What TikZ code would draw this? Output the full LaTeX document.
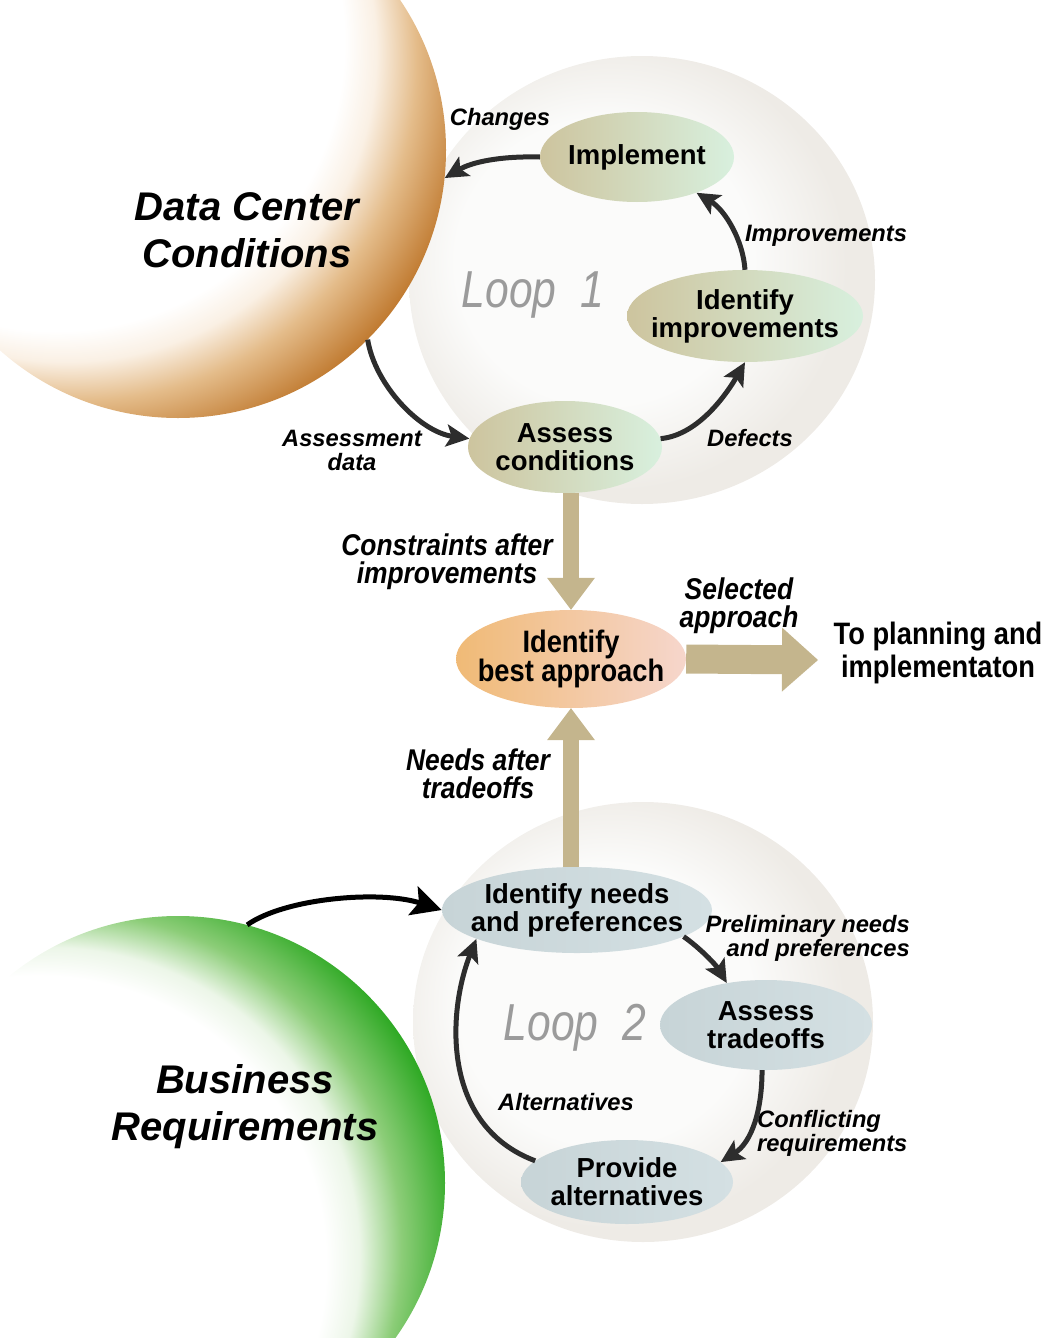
\documentclass[tikz,border=0pt]{standalone}
\usepackage{fontspec}
\setmainfont{Liberation Sans}
\newfontfamily\condfont[FakeStretch=0.88]{Liberation Sans}
\newfontfamily\loopfont[FakeStretch=0.82]{Liberation Sans}
\usetikzlibrary{arrows.meta,shapes.geometric,calc}

\definecolor{dcbrown}{RGB}{192,122,48}
\definecolor{dcmid}{RGB}{228,188,138}
\definecolor{dclight}{RGB}{250,240,228}
\definecolor{brgreen}{RGB}{44,168,34}
\definecolor{brmid}{RGB}{140,205,120}
\definecolor{brlight}{RGB}{236,246,232}
\definecolor{loopin}{RGB}{251,251,250}
\definecolor{loopout}{RGB}{238,235,230}
\definecolor{fattan}{RGB}{196,181,141}
\definecolor{arrowgray}{RGB}{45,45,45}
\definecolor{lonetan}{RGB}{205,196,158}
\definecolor{lonemint}{RGB}{216,240,222}
\definecolor{ltwo}{RGB}{199,212,215}
\definecolor{ltwor}{RGB}{212,224,227}
\definecolor{bestor}{RGB}{240,186,118}
\definecolor{bestpk}{RGB}{246,214,204}
\definecolor{loopgray}{RGB}{155,155,155}

\pgfdeclareradialshading{orangeball}{\pgfpoint{-25bp}{22bp}}{color(0bp)=(white); color(27bp)=(white); color(29bp)=(dclight); color(31.5bp)=(dcmid); color(35bp)=(dcbrown); color(50bp)=(dcbrown)}
\pgfdeclareradialshading{greenball}{\pgfpoint{-28.6bp}{-16.5bp}}{color(0bp)=(white); color(27bp)=(white); color(29bp)=(brlight); color(31.5bp)=(brmid); color(35bp)=(brgreen); color(50bp)=(brgreen)}
\pgfdeclareradialshading{loopball}{\pgfpoint{-6bp}{3bp}}{color(0bp)=(loopin); color(16bp)=(loopin); color(25bp)=(loopout); color(50bp)=(loopout)}

\tikzset{
  proc/.style={ellipse, inner ysep=0pt, inner xsep=-25pt, align=center,
    font=\fontsize{27.5}{28}\selectfont\bfseries},
  loopone/.style={proc, left color=lonetan, right color=lonemint},
  looptwo/.style={proc, left color=ltwo, right color=ltwor},
  elabel/.style={font=\fontsize{23.7}{24}\selectfont\bfseries\itshape, align=center, inner sep=0pt},
  clabel/.style={font=\condfont\fontsize{30}{28}\selectfont\bfseries\itshape, align=center, inner sep=0pt},
  cyc/.style={draw=arrowgray, line width=5pt, -{Stealth[length=23pt,width=22pt,inset=5pt]}},
  fat/.style={draw=fattan, line width=16pt, -{Triangle[length=32pt,width=48pt,line width=0pt]}},
  bigtitle/.style={font=\fontsize{40}{47}\selectfont\bfseries\itshape, align=center, inner sep=0pt},
  looptext/.style={font=\loopfont\fontsize{52}{52}\selectfont\itshape, text=loopgray, inner sep=0pt},
}

\begin{document}
\begin{tikzpicture}[x=1pt, y=-1pt]
\useasboundingbox (0,0) rectangle (1052,1338);

% loop backgrounds
\path[shade, shading=loopball] (642,280) ellipse [x radius=233pt, y radius=224pt];
\path[shade, shading=loopball] (643,1022) ellipse [x radius=230pt, y radius=220pt];

% spheres
\node[circle, minimum size=536pt, inner sep=0pt, shade, shading=orangeball] (dcc) at (178,150) {};
\node[circle, minimum size=534pt, inner sep=0pt, shade, shading=greenball] (br) at (178,1183) {};

\node[bigtitle] (dcctext) at (247,230) {Data Center\\Conditions};
\node[bigtitle] (brtext) at (245,1107) {Business\\Requirements};
\node[looptext] (l1) at (533,295) {Loop~~1};
\node[looptext] (l2) at (575,1028) {Loop~~2};

% process nodes
\node[loopone, minimum width=194pt, minimum height=90pt] (impl) at (637,157) {Implement};
\node[loopone, minimum width=236pt, minimum height=92pt] (idimp) at (745,316) {Identify\\improvements};
\node[loopone, minimum width=194pt, minimum height=92pt] (asscond) at (565,447) {Assess\\conditions};
\node[proc, left color=bestor, right color=bestpk, minimum width=230pt, minimum height=98pt,
  font=\condfont\fontsize{31}{28}\selectfont\bfseries] (best) at (571,659) {Identify\\best approach};
\node[looptwo, minimum width=270pt, minimum height=86pt] (idneeds) at (577,910) {Identify needs\\and preferences};
\node[looptwo, minimum width=212pt, minimum height=90pt] (asstr) at (766,1025) {Assess\\tradeoffs};
\node[looptwo, minimum width=212pt, minimum height=84pt] (provalt) at (627,1182) {Provide\\alternatives};

% labels
\node[elabel] (lchanges) at (500,119) {Changes};
\node[elabel] (limpr) at (826,236) {Improvements};
\node[elabel] (ldef) at (750,438) {Defects};
\node[elabel] (lassess) at (352,450) {Assessment\\data};
\node[clabel] (lconstr) at (447,562) {Constraints after\\improvements};
\node[clabel] (lsel) at (739,606) {Selected\\approach};
\node[clabel, font=\condfont\fontsize{31}{33}\selectfont\bfseries] (lplan) at (938,653) {To planning and\\implementaton};
\node[clabel] (lneeds) at (478,774) {Needs after\\tradeoffs};
\node[elabel, align=right, anchor=east] (lprelim) at (910,938) {Preliminary needs\\and preferences};
\node[elabel, align=left, anchor=west] (lconf) at (757,1133) {Conflicting\\requirements};
\node[elabel] (lalt) at (566,1102) {Alternatives};

% fat arrows
\coordinate (planend) at (818,660);
\draw[fat] (asscond.south -| best.north) -- (best.north);
\draw[fat] (idneeds.north -| best.south) -- (best.south);
\draw[fat, line width=29pt, -{Triangle[length=36pt,width=64pt,line width=0pt]}] (best.east) -- (planend);

% loop arrows
\draw[cyc] (impl.west) .. controls (500,156) and (472,162) .. (dcc.-6);
\draw[cyc] (idimp.north) .. controls (743,240) and (725,210) .. (impl.-31);
\draw[cyc] (asscond.5) .. controls (700,435) and (729,390) .. (idimp.south);
\draw[cyc] (dcc.-45) .. controls (375,385) and (420,432) .. (asscond.175);
\draw[cyc, draw=black, -{Stealth[length=30pt,width=30pt,inset=6pt]}] (br.75) .. controls (285,898) and (380,890) .. (idneeds.west);
\draw[cyc] (idneeds.-14) .. controls (700,948) and (716,965) .. (asstr.133);
\draw[cyc] (asstr.-95) .. controls (762,1110) and (752,1142) .. (provalt.12);
\draw[cyc] (provalt.167) .. controls (440,1125) and (448,1010) .. (idneeds.196);
\end{tikzpicture}
\end{document}
